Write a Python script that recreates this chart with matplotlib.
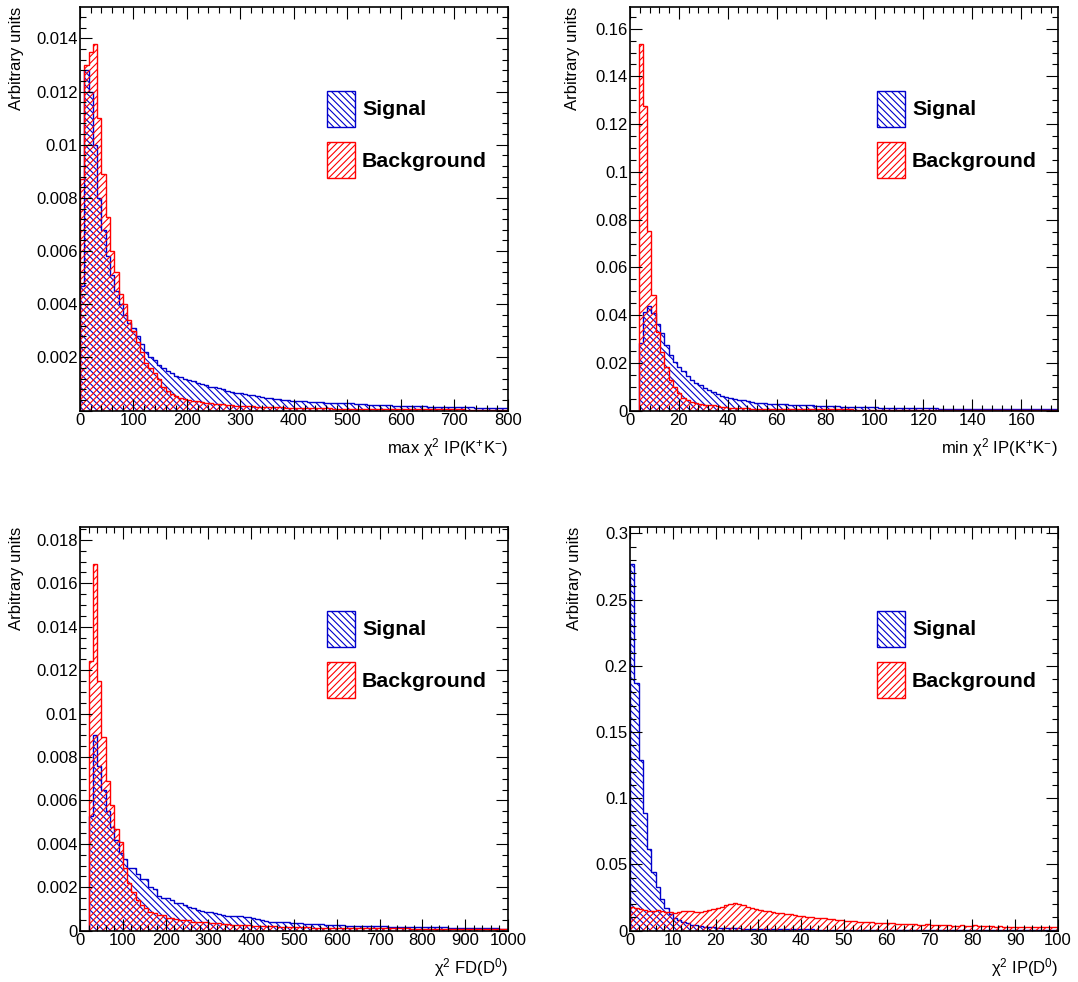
"""
Signal / background comparison of four selection variables (ROOT-style hatched histograms)
"""
import numpy as np
import matplotlib.pyplot as plt
from matplotlib.patches import Patch
from matplotlib.ticker import MultipleLocator, FuncFormatter

plt.rcParams['font.family'] = ['Liberation Sans', 'DejaVu Sans']
plt.rcParams['mathtext.fontset'] = 'custom'
plt.rcParams['mathtext.rm'] = 'Liberation Sans'
plt.rcParams['mathtext.it'] = 'Liberation Sans:italic'
plt.rcParams['hatch.linewidth'] = 0.8

# ---- data: normalised bin contents, 100 bins per histogram ----
# max chi2 IP(K+K-), 0..800
sig_maxip = [0.0047, 0.0128, 0.0120, 0.0100, 0.0080, 0.0068, 0.0058, 0.0051, 0.0045, 0.0040,
             0.0036, 0.0033, 0.0031, 0.0028, 0.0025, 0.0022, 0.0020, 0.0019, 0.0017, 0.0016,
             0.0015, 0.0014, 0.0013, 0.00125, 0.0012, 0.00115, 0.0011, 0.00105, 0.0010, 0.00095,
             0.0009, 0.00088, 0.00085, 0.0008, 0.00075, 0.0007, 0.00068, 0.00065, 0.00063, 0.0006,
             0.00058, 0.00055, 0.0005, 0.00049, 0.00047, 0.00045, 0.00043, 0.00042, 0.0004, 0.00038,
             0.00037, 0.00036, 0.00035, 0.00034, 0.00033, 0.00032, 0.00031, 0.0003, 0.0003, 0.00029,
             0.00028, 0.00028, 0.00027, 0.00027, 0.00026, 0.00025, 0.00024, 0.00023, 0.00022, 0.00022,
             0.00021, 0.0002, 0.0002, 0.00019, 0.00019, 0.00018, 0.00018, 0.00017, 0.00017, 0.00016,
             0.00016, 0.00015, 0.00015, 0.00015, 0.00014, 0.00014, 0.00013, 0.00013, 0.00013, 0.00012,
             0.00012, 0.00012, 0.00011, 0.00011, 0.00011, 0.0001, 0.0001, 0.0001, 0.00009, 0.00009]
bkg_maxip = [0.0087, 0.0130, 0.0135, 0.0138, 0.0110, 0.0089, 0.0073, 0.0060, 0.0052, 0.0044,
             0.0040, 0.0034, 0.0030, 0.0026, 0.0022, 0.0018, 0.0016, 0.0014, 0.0012, 0.0009,
             0.00075, 0.00062, 0.00055, 0.00048, 0.00045, 0.0004, 0.00038, 0.00036, 0.00032, 0.0003,
             0.00029, 0.00026, 0.00025, 0.00024, 0.00023, 0.0002, 0.00019, 0.00018, 0.00017, 0.00016,
             0.00016, 0.00015, 0.00015, 0.00013, 0.00013, 0.00012, 0.00012, 0.00012, 0.00011, 0.00011,
             0.0001, 0.0001, 0.0001, 0.0001, 0.0001, 0.00009, 0.00009, 0.00009, 0.00009, 0.00008,
             0.00008, 0.00008, 0.00008, 0.00008, 0.00007, 0.00007, 0.00007, 0.00007, 0.00007, 0.00007,
             0.00006, 0.00006, 0.00006, 0.00006, 0.00006, 0.00006, 0.00006, 0.00006, 0.00005, 0.00005,
             0.00005, 0.00005, 0.00005, 0.00005, 0.00005, 0.00005, 0.00005, 0.00005, 0.00005, 0.00005,
             0.00004, 0.00004, 0.00004, 0.00004, 0.00004, 0.00004, 0.00004, 0.00004, 0.00004, 0.00004]

# min chi2 IP(K+K-), 0..175
sig_minip = [0, 0, 0.0282, 0.0414, 0.0438, 0.0407, 0.0362, 0.0324, 0.0275, 0.0235,
             0.0205, 0.0184, 0.0166, 0.0145, 0.0130, 0.0117, 0.0107, 0.0095, 0.0087, 0.0078,
             0.0068, 0.0061, 0.0056, 0.0052, 0.0049, 0.0046, 0.0043, 0.0040, 0.0037, 0.0034,
             0.0032, 0.0031, 0.0030, 0.0029, 0.0028, 0.0027, 0.0026, 0.0025, 0.0025, 0.0024,
             0.0024, 0.0023, 0.0022, 0.0021, 0.0021, 0.0020, 0.0019, 0.0018, 0.0018, 0.0017,
             0.0017, 0.0016, 0.0016, 0.0015, 0.0015, 0.0014, 0.0014, 0.0014, 0.0013, 0.0013,
             0.0013, 0.0012, 0.0012, 0.0012, 0.0011, 0.0011, 0.0011, 0.0011, 0.0010, 0.0010,
             0.0010, 0.0010, 0.0009, 0.0009, 0.0009, 0.0009, 0.0008, 0.0008, 0.0008, 0.0008,
             0.0008, 0.0007, 0.0007, 0.0007, 0.0007, 0.0007, 0.0007, 0.0007, 0.0007, 0.0007,
             0.0006, 0.0006, 0.0006, 0.0006, 0.0006, 0.0006, 0.0006, 0.0006, 0.0006, 0.0006]
bkg_minip = [0, 0, 0.1537, 0.1275, 0.0752, 0.0486, 0.0330, 0.0245, 0.0184, 0.0130,
             0.0100, 0.0072, 0.0053, 0.0045, 0.0038, 0.0031, 0.0027, 0.0025, 0.0024, 0.0022,
             0.0018, 0.0017, 0.0016, 0.0013, 0.0012, 0.0011, 0.0010, 0.0010, 0.0009, 0.0009,
             0.00085, 0.0008, 0.0008, 0.00075, 0.00075, 0.0007, 0.0007, 0.0007, 0.00065, 0.00065,
             0.0006, 0.0006, 0.0006, 0.00058, 0.00058, 0.00056, 0.00055, 0.00055, 0.00053, 0.00052,
             0.0005, 0.0005, 0.00049, 0.00048, 0.00047, 0.00046, 0.00045, 0.00045, 0.00044, 0.00043,
             0.00042, 0.00042, 0.00041, 0.0004, 0.0004, 0.00039, 0.00039, 0.00038, 0.00038, 0.00037,
             0.00037, 0.00036, 0.00036, 0.00035, 0.00035, 0.00035, 0.00034, 0.00034, 0.00033, 0.00033,
             0.00033, 0.00032, 0.00032, 0.00032, 0.00031, 0.00031, 0.00031, 0.0003, 0.0003, 0.0003,
             0.0003, 0.00029, 0.00029, 0.00029, 0.00028, 0.00028, 0.00028, 0.00028, 0.00027, 0.00027]

# chi2 FD(D0), 0..1000
sig_fd = [0, 0, 0.0053, 0.0090, 0.0076, 0.0065, 0.0055, 0.0048, 0.0042, 0.0036,
          0.0033, 0.0029, 0.0029, 0.0026, 0.0024, 0.0024, 0.0020, 0.0019, 0.0016, 0.0015,
          0.0015, 0.0014, 0.0013, 0.00126, 0.0012, 0.0011, 0.00105, 0.00095, 0.0009, 0.00088,
          0.00085, 0.0008, 0.00075, 0.00073, 0.0007, 0.0007, 0.00068, 0.00066, 0.00064, 0.00062,
          0.0006, 0.00055, 0.0005, 0.00045, 0.00042, 0.0004, 0.00042, 0.0004, 0.00038, 0.00036,
          0.00035, 0.00034, 0.00032, 0.00031, 0.0003, 0.00029, 0.00029, 0.00028, 0.00027, 0.00026,
          0.00025, 0.00025, 0.00024, 0.00024, 0.00023, 0.00022, 0.00022, 0.00021, 0.00021, 0.0002,
          0.0002, 0.0002, 0.00019, 0.00019, 0.00018, 0.00018, 0.00018, 0.00017, 0.00017, 0.00017,
          0.00016, 0.00016, 0.00016, 0.00015, 0.00015, 0.00015, 0.00014, 0.00014, 0.00014, 0.00013,
          0.00013, 0.00013, 0.00012, 0.00012, 0.00012, 0.00011, 0.00011, 0.00011, 0.0001, 0.0001]
bkg_fd = [0, 0, 0.0124, 0.0169, 0.0115, 0.0089, 0.0069, 0.0058, 0.0047, 0.0041,
          0.0029, 0.0022, 0.0018, 0.0014, 0.0012, 0.00103, 0.00087, 0.0008, 0.00072, 0.00072,
          0.00057, 0.00057, 0.00056, 0.0005, 0.00049, 0.00048, 0.00042, 0.00041, 0.0004, 0.0004,
          0.00035, 0.00034, 0.00034, 0.00033, 0.00033, 0.00027, 0.00026, 0.00026, 0.00025, 0.00025,
          0.00021, 0.00021, 0.00021, 0.0002, 0.0002, 0.0002, 0.00018, 0.00018, 0.00018, 0.00018,
          0.00018, 0.00017, 0.00017, 0.00017, 0.00014, 0.00014, 0.00014, 0.00014, 0.00014, 0.00014,
          0.00014, 0.00013, 0.00013, 0.00013, 0.00013, 0.00013, 0.00013, 0.00012, 0.00012, 0.00012,
          0.00011, 0.00011, 0.00011, 0.00011, 0.00011, 0.00011, 0.00011, 0.0001, 0.0001, 0.0001,
          0.0001, 0.0001, 0.0001, 0.0001, 0.00009, 0.00009, 0.00008, 0.00008, 0.00008, 0.00008,
          0.00008, 0.00008, 0.00008, 0.00008, 0.00007, 0.00007, 0.00007, 0.00007, 0.00007, 0.00007]

# chi2 IP(D0), 0..100
sig_ipd0 = [0.277, 0.187, 0.129, 0.089, 0.062, 0.044, 0.033, 0.024, 0.017, 0.013,
            0.0095, 0.0078, 0.0068, 0.0057, 0.0047, 0.0040, 0.0035, 0.0031, 0.0028, 0.0025,
            0.0023, 0.0021, 0.0020, 0.0019, 0.0018, 0.0017, 0.0016, 0.0015, 0.0015, 0.0014,
            0.0014, 0.0013, 0.0013, 0.0012, 0.0012, 0.0012, 0.0011, 0.0011, 0.0011, 0.0010,
            0.0010, 0.0010, 0.0010, 0.0009, 0.0009, 0.0009, 0.0009, 0.0009, 0.0008, 0.0008,
            0.0008, 0.0008, 0.0008, 0.0008, 0.0007, 0.0007, 0.0007, 0.0007, 0.0007, 0.0007,
            0.0007, 0.0007, 0.0006, 0.0006, 0.0006, 0.0006, 0.0006, 0.0006, 0.0006, 0.0006,
            0.0006, 0.0006, 0.0006, 0.0005, 0.0005, 0.0005, 0.0005, 0.0005, 0.0005, 0.0005,
            0.0005, 0.0005, 0.0005, 0.0005, 0.0005, 0.0005, 0.0005, 0.0004, 0.0004, 0.0004,
            0.0004, 0.0004, 0.0004, 0.0004, 0.0004, 0.0004, 0.0004, 0.0004, 0.0004, 0.0004]
bkg_ipd0 = [0.0181, 0.0169, 0.0161, 0.0156, 0.0151, 0.0151, 0.0156, 0.0151, 0.0144, 0.0139,
            0.0131, 0.0144, 0.0151, 0.0146, 0.0146, 0.0144, 0.0144, 0.0151, 0.0156, 0.0164,
            0.0174, 0.0181, 0.0192, 0.0199, 0.0207, 0.0204, 0.0194, 0.0176, 0.0169, 0.0164,
            0.0156, 0.0151, 0.0146, 0.0139, 0.0136, 0.0131, 0.0126, 0.0123, 0.0118, 0.0113,
            0.0111, 0.0106, 0.0101, 0.0098, 0.0098, 0.0093, 0.0091, 0.0086, 0.0081, 0.0078,
            0.0076, 0.0073, 0.0073, 0.0068, 0.0068, 0.0063, 0.0063, 0.0060, 0.0060, 0.0055,
            0.0055, 0.0055, 0.0050, 0.0050, 0.0050, 0.0050, 0.0048, 0.0045, 0.0045, 0.0048,
            0.0043, 0.0045, 0.0043, 0.0040, 0.0040, 0.0038, 0.0038, 0.0040, 0.0035, 0.0038,
            0.0040, 0.0035, 0.0035, 0.0033, 0.0033, 0.0030, 0.0033, 0.0030, 0.0030, 0.0030,
            0.0030, 0.0028, 0.0030, 0.0028, 0.0028, 0.0025, 0.0028, 0.0025, 0.0025, 0.0028]

x_titles = [r'max χ$^{2}$ IP(K$^{+}$K$^{-}$)', r'min χ$^{2}$ IP(K$^{+}$K$^{-}$)',
            r'χ$^{2}$ FD(D$^{0}$)', r'χ$^{2}$ IP(D$^{0}$)']
labels = ['Signal', 'Background']

blue = '#0000cc'
red = '#ff0000'
hatch_sig = '\\' * 5
hatch_bkg = '/' * 5

# panel setup: (signal, background, xmax, x major, x minor, y major, y minor, show y=0 label)
panels = [
    (sig_maxip, bkg_maxip, 800, 100, 20, 0.002, 0.0004, False),
    (sig_minip, bkg_minip, 175, 20, 4, 0.02, 0.005, True),
    (sig_fd, bkg_fd, 1000, 100, 20, 0.002, 0.0005, True),
    (sig_ipd0, bkg_ipd0, 100, 10, 2, 0.05, 0.01, True),
]
positions = [[0.0742, 0.5818, 0.397, 0.4111], [0.5844, 0.5818, 0.397, 0.4111],
             [0.0742, 0.0522, 0.397, 0.4111], [0.5844, 0.0522, 0.397, 0.4111]]
ytitle_x = [-0.149, -0.134, -0.149, -0.130]

fig = plt.figure(figsize=(10.78, 9.82), dpi=100)

for i, (sig, bkg, xmax, xmaj, xmin, ymaj, ymin, zero) in enumerate(panels):
    ax = fig.add_axes(positions[i])
    edges = np.linspace(0, xmax, len(sig) + 1)
    ax.stairs(sig, edges, fill=True, facecolor='none', edgecolor=blue,
              hatch=hatch_sig, linewidth=1.0)
    ax.stairs(bkg, edges, fill=True, facecolor='none', edgecolor=red,
              hatch=hatch_bkg, linewidth=1.0)

    ax.set_xlim(0, xmax)
    ax.set_ylim(0, 1.1 * max(max(sig), max(bkg)))
    ax.xaxis.set_major_locator(MultipleLocator(xmaj))
    ax.xaxis.set_minor_locator(MultipleLocator(xmin))
    ax.yaxis.set_major_locator(MultipleLocator(ymaj))
    ax.yaxis.set_minor_locator(MultipleLocator(ymin))
    ax.xaxis.set_major_formatter(FuncFormatter(lambda v, p: f'{v:g}'))
    ax.yaxis.set_major_formatter(FuncFormatter(
        lambda v, p, z=zero: '' if (abs(v) < 1e-12 and not z) else f'{v:g}'))

    ax.tick_params(which='both', direction='in', top=True, right=True,
                   labelsize=12, width=0.8)
    ax.tick_params(which='major', length=8.6)
    ax.tick_params(which='minor', length=4.3)
    ax.tick_params(axis='x', pad=1.5)
    ax.tick_params(axis='y', pad=1.5)
    for s in ax.spines.values():
        s.set_linewidth(1.2)

    ax.text(1.0, -0.062, x_titles[i], transform=ax.transAxes,
            ha='right', va='top', fontsize=12)
    ax.text(ytitle_x[i], 1.0, 'Arbitrary units', transform=ax.transAxes,
            rotation=90, ha='center', va='top', fontsize=12)

    handles = [Patch(facecolor='none', edgecolor=blue, hatch=hatch_sig, linewidth=1.0),
               Patch(facecolor='none', edgecolor=red, hatch=hatch_bkg, linewidth=1.0)]
    ax.legend(handles, labels, loc='upper left', bbox_to_anchor=(0.577, 0.793),
              frameon=False, borderpad=0, borderaxespad=0,
              handlelength=1.31, handleheight=2.21, labelspacing=0.72,
              handletextpad=0.33, prop=dict(weight='bold', size=15.4))

plt.savefig('out.png', dpi=100)
